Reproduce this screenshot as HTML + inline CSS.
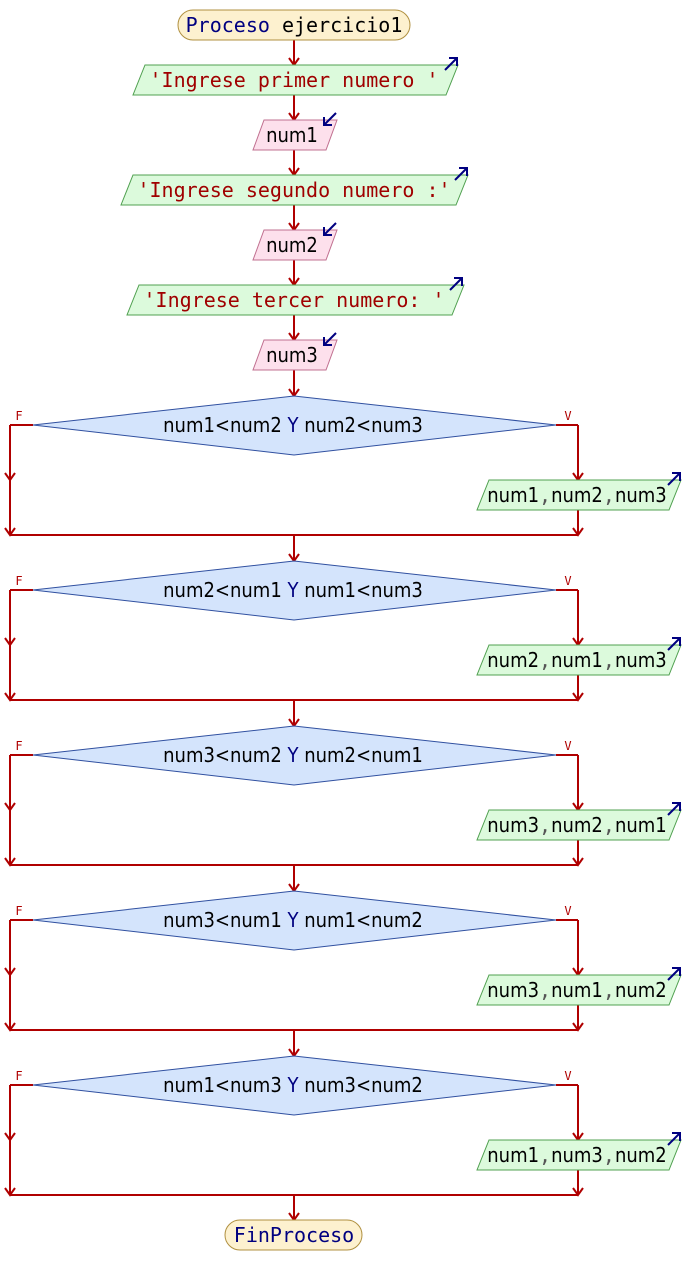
<!DOCTYPE html>
<html><head><meta charset="utf-8">
<style>
html,body{margin:0;padding:0;background:#fff;width:684px;height:1285px;overflow:hidden}
svg{display:block}
.m{font-family:"DejaVu Sans Mono","Liberation Mono",monospace;font-size:20px}
.s{font-family:"DejaVu Sans Condensed","DejaVu Sans","Liberation Sans Narrow",sans-serif;font-stretch:condensed;font-size:20px}
</style></head><body>
<svg id="g" width="684" height="1285" xmlns="http://www.w3.org/2000/svg">
<g stroke="#b00000" stroke-width="2" fill="none" id="lines"></g>
<g id="shapes"></g>
</svg>
<script>
const NS="http://www.w3.org/2000/svg";
const L=document.getElementById('lines'),S=document.getElementById('shapes');
function el(p,t,a,txt){const e=document.createElementNS(NS,t);for(const k in a)e.setAttribute(k,a[k]);if(txt!==undefined)e.textContent=txt;p.appendChild(e);return e;}
function line(x1,y1,x2,y2){el(L,'line',{x1,y1,x2,y2});}
function arr(x,y){el(L,'polyline',{points:`${x-5},${y-7} ${x},${y} ${x+5},${y-7}`});}
function vline(x,y1,y2,arrow=true){line(x,y1,x,y2);if(arrow)arr(x,y2);}
function para(xl,xr,y,h,sl,fill,stroke){el(S,'polygon',{points:`${xl+sl},${y} ${xr},${y} ${xr-sl},${y+h} ${xl},${y+h}`,fill,stroke,'stroke-width':1});}
function outArrow(x,y){el(S,'line',{x1:x,y1:y+12,x2:x+11,y2:y+1,stroke:'#000080','stroke-width':2});el(S,'polyline',{points:`${x+4},${y} ${x+12},${y} ${x+12},${y+8}`,stroke:'#000080','stroke-width':2,fill:'none'});}
function inArrow(x,y){el(S,'line',{x1:x+12,y1:y,x2:x+1,y2:y+11,stroke:'#000080','stroke-width':2});el(S,'polyline',{points:`${x},${y+4} ${x},${y+12} ${x+8},${y+12}`,stroke:'#000080','stroke-width':2,fill:'none'});}
function txt(x,y,cls,parts){const t=el(S,'text',{x,y,'text-anchor':'middle',class:cls});for(const [s,c,cl] of parts){const a={fill:c};if(cl)a['class']=cl;el(t,'tspan',a,s);}}

el(S,'rect',{x:178,y:10,width:232,height:30,rx:15,fill:'#fdf1cf',stroke:'#b09040','stroke-width':1});
txt(294,32,'m',[['Proceso ','#000080'],['ejercicio1','#000']]);
vline(294,40,65);
para(133,458,65,30,12,'#dcfadc','#50a050');outArrow(445,58);
txt(294,87,'m',[["'Ingrese primer numero '",'#a00000']]);
vline(294,95,120);
para(253,337,120,30,11,'#fde0ec','#c07090');inArrow(324,113);
txt(292,142,'s',[['num1','#000']]);
vline(294,150,175);
para(121,468,175,30,12,'#dcfadc','#50a050');outArrow(455,168);
txt(294,197,'m',[["'Ingrese segundo numero :'",'#a00000']]);
vline(294,205,230);
para(253,337,230,30,11,'#fde0ec','#c07090');inArrow(324,223);
txt(292,252,'s',[['num2','#000']]);
vline(294,260,285);
para(127,464,285,30,12,'#dcfadc','#50a050');outArrow(450,278);
txt(294,307,'m',[["'Ingrese tercer numero: '",'#a00000']]);
vline(294,315,340);
para(253,337,340,30,11,'#fde0ec','#c07090');inArrow(324,333);
txt(292,362,'s',[['num3','#000']]);
vline(294,370,396);

const conds=[['num1<num2','num2<num3','num1,num2,num3'],['num2<num1','num1<num3','num2,num1,num3'],['num3<num2','num2<num1','num3,num2,num1'],['num3<num1','num1<num2','num3,num1,num2'],['num1<num3','num3<num2','num1,num3,num2']];
conds.forEach((c,i)=>{
  const cy=425+165*i, top=cy-29, bot=cy+30, my=cy+110;
  if(i>0) vline(294,my-165,top);
  el(S,'polygon',{points:`294,${top} 556,${cy} 294,${bot} 33,${cy}`,fill:'#d4e4fc',stroke:'#3050a0','stroke-width':1});
  txt(293,cy+7,'s',[[c[0],'#000'],[' Y ','#000080'],[c[1],'#000']]);
  el(S,'text',{x:19,y:cy-5,'text-anchor':'middle','font-family':'DejaVu Sans Mono,monospace',fill:'#b00000','font-size':'12'},'F');
  el(S,'text',{x:568,y:cy-5,'text-anchor':'middle','font-family':'DejaVu Sans Mono,monospace',fill:'#b00000','font-size':'12'},'V');
  line(10,cy,33,cy); line(556,cy,578,cy);
  vline(10,cy,cy+55); line(10,cy+55,10,my); arr(10,my);
  vline(578,cy,cy+55);
  para(477,681,cy+55,30,12,'#dcfadc','#50a050');outArrow(668,cy+48);
  const p=c[2].split(',');
  txt(577,cy+77,'s',[[p[0],'#000'],[',','#555','m'],[p[1],'#000'],[',','#555','m'],[p[2],'#000']]);
  vline(578,cy+85,my);
  line(10,my,578,my);
});
vline(294,1195,1220);
el(S,'rect',{x:225,y:1220,width:137,height:30,rx:15,fill:'#fdf1cf',stroke:'#b09040','stroke-width':1});
txt(294,1242,'m',[['FinProceso','#000080']]);
</script>
</body></html>
